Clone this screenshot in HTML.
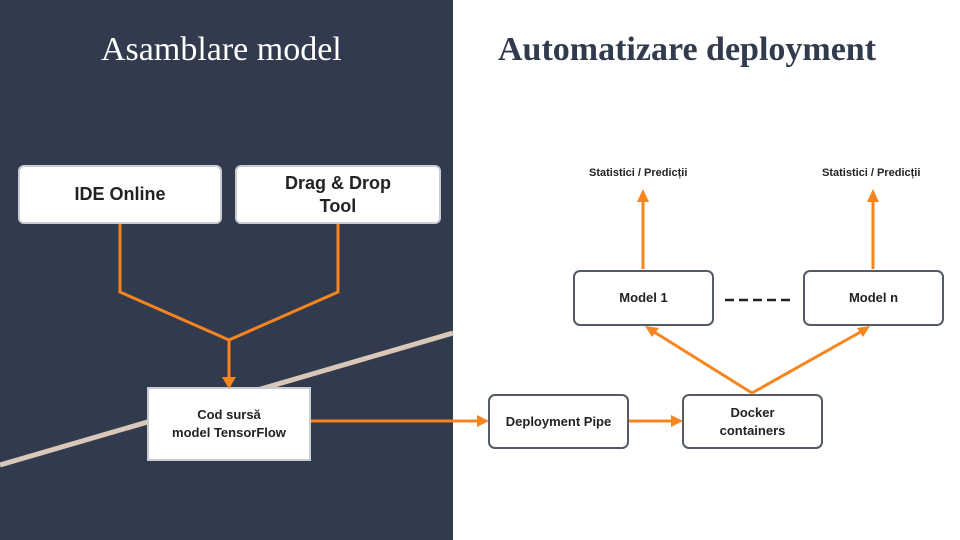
<!DOCTYPE html>
<html><head><meta charset="utf-8"><style>
body{margin:0;width:960px;height:540px;overflow:hidden;background:#fff;position:relative;font-family:"Liberation Sans",sans-serif}
.dark{position:absolute;left:0;top:0;width:453px;height:540px;background:#323a4e}
.t{position:absolute;top:30px;font-family:"Liberation Serif",serif;font-size:34px;white-space:nowrap;line-height:40px}
.b{position:absolute;background:#fff;display:flex;align-items:center;justify-content:center;text-align:center;font-weight:bold;color:#222;box-sizing:border-box}
.l{border-radius:6px;font-size:18px;line-height:23px;border:2px solid #c9ccd2}
.r{border:2.5px solid #555b66;border-radius:7px;font-size:13px;line-height:18px}
.lab{position:absolute;font-size:11px;font-weight:bold;color:#222;white-space:nowrap}
</style></head><body>
<div class="dark"></div>
<svg width="960" height="540" style="position:absolute;left:0;top:0">
<line x1="0" y1="465" x2="453" y2="333" stroke="#d9c8b8" stroke-width="5"/>
</svg>
<div class="t" style="left:101px;color:#fff">Asamblare model</div>
<div class="t" style="left:498px;color:#323a4e;font-weight:bold">Automatizare deployment</div>
<div class="b l" style="left:18px;top:165px;width:204px;height:59px">IDE Online</div>
<div class="b l" style="left:235px;top:165px;width:206px;height:59px">Drag &amp; Drop<br>Tool</div>
<div class="b" style="left:147px;top:387px;width:164px;height:74px;border:2px solid #c9ccd2;font-size:13px;line-height:18px">Cod sursă<br>model TensorFlow</div>
<div class="b r" style="left:488px;top:394px;width:141px;height:55px">Deployment Pipe</div>
<div class="b r" style="left:682px;top:394px;width:141px;height:55px">Docker<br>containers</div>
<div class="b r" style="left:573px;top:270px;width:141px;height:56px">Model 1</div>
<div class="b r" style="left:803px;top:270px;width:141px;height:56px">Model n</div>
<div class="lab" style="left:589px;top:167px">Statistici / Predicții</div>
<div class="lab" style="left:822px;top:167px">Statistici / Predicții</div>
<svg width="960" height="540" style="position:absolute;left:0;top:0">
<g stroke="#f5851f" stroke-width="3" fill="none">
<polyline points="120,224 120,292 229,340 338,292 338,224"/>
<line x1="229" y1="340" x2="229" y2="380"/>
<line x1="311" y1="421" x2="480" y2="421"/>
<line x1="629" y1="421" x2="674" y2="421"/>
<line x1="752" y1="393" x2="651" y2="330"/>
<line x1="752" y1="393" x2="864" y2="330"/>
<line x1="643" y1="269" x2="643" y2="198"/>
<line x1="873" y1="269" x2="873" y2="198"/>
</g>
<g fill="#f5851f">
<polygon points="222,377 236,377 229,389"/>
<polygon points="477,415 477,427 489,421"/>
<polygon points="671,415 671,427 683,421"/>
<polygon points="645,326 659,328 652,337"/>
<polygon points="870,326 857,328 863,337"/>
<polygon points="637,202 649,202 643,189"/>
<polygon points="867,202 879,202 873,189"/>
</g>
<line x1="725" y1="300" x2="792" y2="300" stroke="#222" stroke-width="2.5" stroke-dasharray="9,5"/>
</svg>
</body></html>
